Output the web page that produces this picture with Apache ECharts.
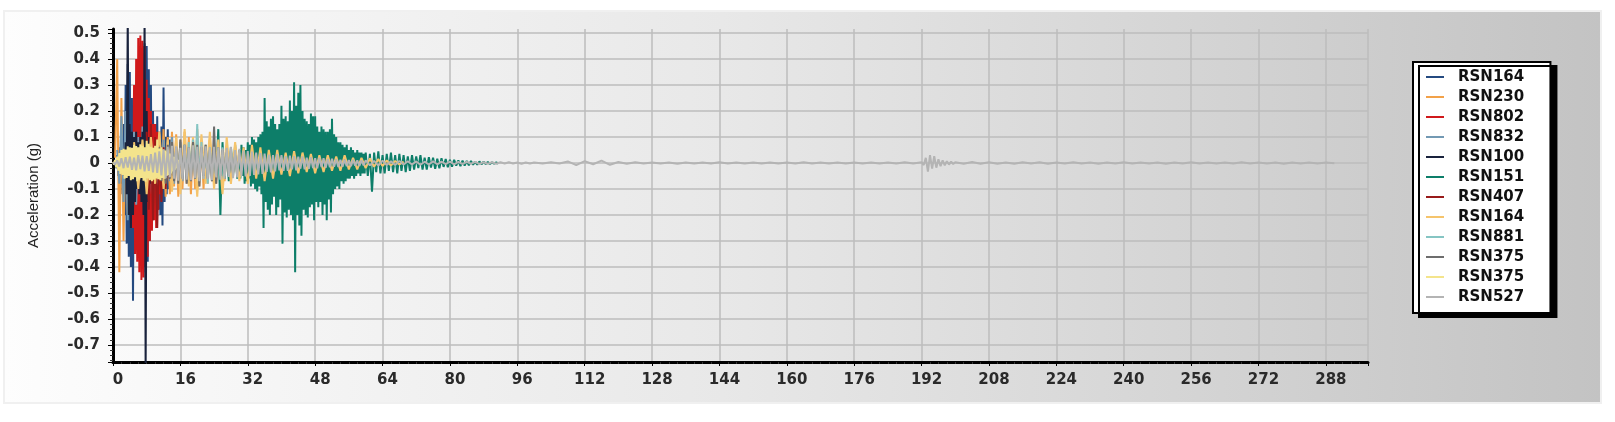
<!DOCTYPE html>
<html>
<head>
<meta charset="utf-8">
<script src="https://cdn.jsdelivr.net/npm/echarts@6/dist/echarts.min.js"></script>
<style>
  html, body { margin: 0; padding: 0; background: #fff; }
  #chart { width: 1615px; height: 422px; }
</style>
</head>
<body>
<div id="chart"></div>
<script>
// legend labels in record order (a trailing space keeps repeated names apart)
const recordNames = ['RSN164', 'RSN230', 'RSN802', 'RSN832', 'RSN100', 'RSN151',
  'RSN407', 'RSN164 ', 'RSN881', 'RSN375', 'RSN375 ', 'RSN527']
const recordColors = ['#244a80', '#f2a149', '#d0191b', '#7399b3', '#19223c', '#0d7e69',
  '#981a1a', '#f5c46c', '#86c5c3', '#6d6d6d', '#f4e48c', '#b4b4b4']

// time axis ticks (s)
const timeTicks = [0, 16, 32, 48, 64, 80, 96, 112, 128, 144, 160, 176, 192, 208, 224, 240, 256, 272, 288]

// acceleration values (g); each block has a start time and a sample step
const rsn164a = [0.01, -0.02, 0.03, -0.05, 0.06, -0.08, 0.1, -0.12, 0.15, -0.2, 0.3, -0.31,
  0.38, -0.36, 0.35, -0.4, 0.25, -0.53, 0.2, -0.35, 0.22, -0.3, 0.18, -0.32,
  0.2, -0.28, 0.3, -0.4, 0.46, -0.42, 0.45, -0.38, 0.36, -0.3, 0.3, -0.22,
  0.2, -0.2, 0.15, -0.22, 0.18, -0.18, 0.12, -0.2, 0.14, -0.24, 0.29, -0.15,
  0.1, -0.12, 0.13, -0.1, 0.09, -0.08, 0.06, -0.05]
const rsn230 = [0.02, 0.4, -0.42, 0.25, -0.3, 0.15, -0.2, 0.12, -0.15, 0.1, -0.12, 0.14,
  -0.1, 0.12, -0.14, 0.1, -0.12, 0.13, -0.1, 0.11, -0.14, 0.12, -0.1, 0.13,
  -0.13, 0.1, -0.12, 0.12, -0.09, 0.11, -0.13, 0.09, -0.1, 0.12, -0.08, 0.1,
  -0.12, 0.08, -0.1, 0.13, -0.09, 0.08, -0.1, 0.07, -0.08, 0.09, -0.07, 0.06,
  -0.08, 0.07, -0.06, 0.05, -0.07, 0.06, -0.05, 0.05, -0.04, 0.04, -0.05, 0.03]
const rsn802 = [0.1, -0.25, 0.3, -0.35, 0.4, -0.38, 0.48, -0.42, 0.49, -0.45, 0.47, -0.44,
  0.45, -0.4, 0.32, -0.36, 0.25, -0.3, 0.2, -0.26, 0.15, -0.22, 0.15, -0.25,
  0.12, -0.18, 0.1, -0.12]
const rsn832 = [0.05, -0.08, 0.18, -0.15, 0.2, -0.22, 0.15, -0.18, 0.12, -0.16, 0.1, -0.12,
  0.14, -0.1, 0.12, -0.15, 0.1, -0.12, 0.09, -0.1, 0.11, -0.08, 0.09, -0.1,
  0.08, -0.07, 0.1, -0.08, 0.07, -0.06, 0.08, -0.07, 0.06, -0.05, 0.05, -0.04, 0.04, -0.03]
const rsn100 = [0.02, -0.05, 0.08, -0.12, 0.56, -0.2, 0.15, -0.25, 0.12, -0.2, 0.1, -0.15,
  0.12, -0.1, 0.08, -0.12, 0.1, -0.15, 0.12, -0.2, 0.56, -0.8, 0.2, -0.15,
  0.1, -0.08, 0.05, -0.03]
const rsn151a = [0.02, -0.025, 0.03, -0.02, 0.035, -0.03, 0.025, -0.04, 0.03, -0.035, 0.04, -0.03,
  0.045, -0.05, 0.13, -0.2, 0.08, -0.06, 0.05, -0.07, 0.06, -0.05, 0.07, -0.06]
const rsn151b = [0.05, -0.06, 0.07, -0.05, 0.06, -0.08, 0.05, -0.07, 0.08, -0.06, 0.07, -0.09,
  0.1, -0.08, 0.09, -0.1, 0.08, -0.11, 0.1, -0.09, 0.11, -0.12, 0.12, -0.25,
  0.25, -0.15, 0.16, -0.18, 0.14, -0.2, 0.17, -0.16, 0.18, -0.13, 0.15, -0.2,
  0.13, -0.17, 0.15, -0.14, 0.22, -0.31, 0.17, -0.19, 0.18, -0.21, 0.16, -0.18,
  0.24, -0.2, 0.2, -0.22, 0.31, -0.42, 0.22, -0.2, 0.27, -0.24, 0.3, -0.28,
  0.2, -0.18, 0.17, -0.2, 0.16, -0.21, 0.15, -0.17, 0.19, -0.16, 0.18, -0.22,
  0.18, -0.15, 0.14, -0.17, 0.12, -0.15, 0.14, -0.2, 0.13, -0.16, 0.12, -0.22,
  0.12, -0.14, 0.13, -0.19, 0.17, -0.12, 0.11, -0.1, 0.1, -0.09, 0.08, -0.1,
  0.08, -0.07, 0.07, -0.08, 0.06, -0.07, 0.07, -0.06, 0.05, -0.06, 0.06, -0.05,
  0.05, -0.06, 0.04, -0.05, 0.05, -0.04, 0.04, -0.05, 0.04, -0.04, 0.035, -0.04]
const rsn151c = [0.04, -0.05, 0.035, -0.11, 0.04, -0.035, 0.045, -0.04, 0.03, -0.04, 0.035, -0.03,
  0.04, -0.035, 0.03, -0.04, 0.035, -0.03, 0.03, -0.035, 0.025, -0.03, 0.03, -0.025,
  0.025, -0.02, 0.03, -0.025, 0.02, -0.025, 0.022, -0.018, 0.02, -0.022, 0.016, -0.02,
  0.018, -0.015, 0.015, -0.016, 0.012, -0.014, 0.012, -0.01, 0.01, -0.012, 0.009, -0.01,
  0.008, -0.009, 0.008, -0.007, 0.006, -0.007, 0.006, -0.005, 0.005, -0.004, 0.004, -0.004,
  0.003, -0.003, 0.002, -0.002]
const rsn407 = [0.12, -0.18, 0.15, -0.22, 0.1, -0.25, 0.08, -0.15, 0.06, -0.1, 0.05, -0.06]
const rsn164b = [0.08, -0.1, 0.09, -0.12, 0.1, -0.08, 0.12, -0.1, 0.09, -0.11, 0.1, -0.12,
  0.13, -0.09, 0.1, -0.13, 0.11, -0.08, 0.12, -0.1, 0.09, -0.12, 0.1, -0.08,
  0.08, -0.07, 0.06, -0.08, 0.07, -0.06, 0.06, -0.07, 0.05, -0.06, 0.05, -0.045,
  0.04, -0.05, 0.045, -0.04, 0.04, -0.035, 0.035, -0.04, 0.03, -0.035, 0.03, -0.03,
  0.025, -0.03, 0.03, -0.025, 0.02, -0.025, 0.02, -0.02, 0.018, -0.015, 0.015, -0.012,
  0.01, -0.01, 0.008, -0.006, 0.005]
const rsn881 = [0.03, -0.04, 0.05, -0.04, 0.06, -0.05, 0.07, -0.06, 0.08, -0.05, 0.09, -0.06,
  0.15, -0.07, 0.08, -0.06, 0.07, -0.08, 0.06, -0.05, 0.07, -0.06, 0.05, -0.04,
  0.06, -0.05, 0.04, -0.05, 0.04, -0.03, 0.03, -0.02]
const rsn375a = [0.04, -0.05, 0.06, -0.07, 0.05, -0.08, 0.07, -0.06, 0.08, -0.07, 0.06, -0.08,
  0.09, -0.06, 0.07, -0.08, 0.06, -0.07, 0.08, -0.06, 0.07, -0.09, 0.06, -0.05,
  0.07, -0.06, 0.05, -0.07, 0.14, -0.08, 0.06, -0.05, 0.05, -0.04, 0.04, -0.05,
  0.03, -0.04, 0.03, -0.02]
const rsn375b = [0.004, -0.006, 0.012, -0.018, 0.025, -0.03, 0.038, -0.042, 0.05, -0.046, 0.055, -0.06,
  0.052, -0.058, 0.064, -0.05, 0.06, -0.066, 0.058, -0.062, 0.07, -0.055, 0.065, -0.07,
  0.06, -0.064, 0.072, -0.058, 0.066, -0.068, 0.06, -0.072, 0.085, -0.06, 0.074, -0.066,
  0.062, -0.07, 0.058, -0.064, 0.066, -0.06, 0.09, -0.062, 0.056, -0.066, 0.06, -0.058,
  0.052, -0.06, 0.048, -0.05, 0.042, -0.046, 0.036, -0.04, 0.03, -0.032, 0.024, -0.026,
  0.018, -0.02, 0.012, -0.01]
const rsn527a = [0.003, -0.006, 0.01, -0.014, 0.018, -0.02, 0.022, -0.018, 0.024, -0.026, 0.02, -0.028,
  0.03, -0.024, 0.028, -0.032, 0.026, -0.03, 0.034, -0.036, 0.04, -0.038, 0.045, -0.048,
  0.052, -0.058, 0.062, -0.055, 0.066, -0.06, 0.064, -0.068, 0.058, -0.062, 0.07, -0.064,
  0.06, -0.066, 0.068, -0.058, 0.062, -0.07, 0.066, -0.06, 0.064, -0.062, 0.058, -0.066,
  0.062, -0.056, 0.06, -0.064, 0.055, -0.06, 0.058, -0.054, 0.062, -0.058, 0.05, -0.056,
  0.054, -0.05, 0.048, -0.052, 0.046, -0.05, 0.044, -0.046, 0.04, -0.044, 0.038, -0.042,
  0.036, -0.034, 0.032, -0.036, 0.03, -0.032, 0.034, -0.028, 0.03, -0.03, 0.026, -0.03,
  0.028, -0.024, 0.026, -0.028, 0.024, -0.022, 0.025, -0.024, 0.02, -0.022, 0.022, -0.02,
  0.018, -0.02, 0.02, -0.016, 0.018, -0.018, 0.015, -0.016, 0.016, -0.014, 0.014, -0.015,
  0.012, -0.014, 0.013, -0.012, 0.011, -0.012, 0.012, -0.01, 0.01, -0.011, 0.01, -0.009]
const rsn527b = [0.01, -0.009, 0.008, -0.01, 0.009, -0.008, 0.007, -0.008, 0.008, -0.006, 0.007, -0.006,
  0.006, -0.007, 0.005, -0.006, 0.006, -0.005, 0.005, -0.004, 0.005, -0.005, 0.004, -0.004,
  0.004, -0.003, 0.004, -0.004, 0.003, -0.003, 0.003, -0.003, 0.003, -0.002, 0.003, -0.002,
  0.002, -0.003, 0.002, -0.002]
const rsn527c = [0.002, -0.002, 0.003, -0.002, 0.006, -0.008, 0.007, -0.005, 0.009, -0.007, 0.004, -0.003,
  0.003, -0.002, 0.002, -0.002, 0.002, -0.003, 0.002, -0.002, 0.002, -0.002, 0.003, -0.002,
  0.002, -0.002, 0.002, -0.002, 0.002, -0.002, 0.002, -0.002, 0.003, -0.002, 0.002, -0.002,
  0.002, -0.002, 0.002, -0.002, 0.002, -0.002, 0.002, -0.002, 0.003, -0.002]
const rsn527d = [0.003, -0.008, 0.02, -0.033, 0.03, -0.022, 0.026, -0.018, 0.014, -0.012, 0.01, -0.009,
  0.007, -0.006, 0.005, -0.004]
const rsn527e = [0.003, -0.003, 0.004, -0.003, 0.003, -0.003, 0.002, -0.003, 0.003, -0.002, 0.003, -0.003,
  0.002, -0.002, 0.003, -0.002, 0.002, -0.003, 0.002, -0.002, 0.003, -0.002, 0.002, -0.002,
  0.002, -0.003, 0.002, -0.002, 0.003, -0.002, 0.002, -0.002, 0.002, -0.002, 0.003, -0.002,
  0.002, -0.002, 0.002, -0.003, 0.002, -0.002, 0.002, -0.002, 0.002, -0.001]

// [start time, step, values] blocks for each record, in legend order
const records = [
  [[0.5, 0.25, rsn164a]],
  [[0.5, 0.5, rsn230]],
  [[4.5, 0.25, rsn802]],
  [[1, 0.5, rsn832]],
  [[2.5, 0.25, rsn100]],
  [[18, 0.5, rsn151a], [30, 0.25, rsn151b], [60, 0.5, rsn151c]],
  [[8, 0.5, rsn407]],
  [[5, 1, rsn164b]],
  [[14, 0.5, rsn881]],
  [[10, 0.5, rsn375a]],
  [[0, 0.25, rsn375b]],
  [[0, 0.5, rsn527a], [60, 1, rsn527b], [100, 2, rsn527c], [192, 0.5, rsn527d], [200, 2, rsn527e]]
]

const toPoints = (blocks) => {
  const pts = []
  blocks.forEach(([t0, dt, vals]) => {
    vals.forEach((v, i) => pts.push([+(t0 + i * dt).toFixed(3), v]))
  })
  return pts
}

const chart = echarts.init(document.getElementById('chart'))

const tickFont = { fontFamily: 'DejaVu Sans', fontSize: 15, fontWeight: 'bold', color: '#2a2a2a' }

const option = {
  animation: false,
  backgroundColor: '#fff',
  graphic: [
    {
      type: 'rect',
      z: -10,
      silent: true,
      shape: { x: 4, y: 11, width: 1597, height: 392 },
      style: {
        fill: new echarts.graphic.LinearGradient(0, 0, 1, 0, [
          { offset: 0, color: '#fdfdfd' },
          { offset: 0.45, color: '#e8e8e8' },
          { offset: 1, color: '#c3c3c3' }
        ]),
        stroke: '#f0f0f0',
        lineWidth: 2
      }
    }
  ],
  grid: {
    left: 113,
    right: 247,
    top: 29,
    bottom: 60
  },
  legend: {
    orient: 'vertical',
    left: 1413,
    top: 62,
    icon: 'rect',
    itemWidth: 18,
    itemHeight: 2,
    itemGap: 4,
    padding: [7, 21, 8, 13],
    backgroundColor: '#fff',
    borderColor: '#000',
    borderWidth: 2,
    shadowColor: '#000',
    shadowBlur: 0,
    shadowOffsetX: 6,
    shadowOffsetY: 4,
    textStyle: {
      fontFamily: 'DejaVu Sans',
      fontSize: 15,
      fontWeight: 'bold',
      color: '#111',
      lineHeight: 16,
      padding: [0, 0, 0, 9]
    },
    data: recordNames
  },
  xAxis: {
    type: 'value',
    min: 0,
    max: 298,
    interval: 16,
    axisLine: { onZero: false, lineStyle: { color: '#000', width: 3 } },
    axisTick: { length: 4, lineStyle: { color: '#000', width: 1 } },
    minorTick: { show: true, splitNumber: 8, length: 2, lineStyle: { color: '#333' } },
    splitLine: { show: true, lineStyle: { color: '#bcbcbc', width: 1.5 } },
    axisLabel: {
      ...tickFont,
      showMaxLabel: false,
      margin: 11,
      padding: [0, 0, 0, 10],
      formatter: (v) => (timeTicks.includes(v) ? String(v) : '')
    }
  },
  yAxis: {
    type: 'value',
    min: -0.765,
    max: 0.515,
    splitNumber: 12,
    name: 'Acceleration (g)',
    nameLocation: 'middle',
    nameGap: 72,
    nameTextStyle: { fontFamily: 'Liberation Sans', fontSize: 15, color: '#222' },
    axisLine: { show: true, onZero: false, lineStyle: { color: '#000', width: 3 } },
    axisTick: { length: 5, lineStyle: { color: '#000', width: 1 } },
    minorTick: { show: true, splitNumber: 5, length: 3, lineStyle: { color: '#333' } },
    splitLine: { show: true, showMinLine: false, showMaxLine: false, lineStyle: { color: '#bcbcbc', width: 1.5 } },
    axisLabel: {
      ...tickFont,
      showMinLabel: false,
      showMaxLabel: false,
      margin: 13,
      formatter: (v) => String(Math.round(v * 10) / 10)
    }
  },
  series: records.map((blocks, i) => ({
    name: recordNames[i],
    type: 'line',
    data: toPoints(blocks),
    showSymbol: false,
    symbol: 'none',
    color: recordColors[i],
    lineStyle: { width: 2, color: recordColors[i] },
    emphasis: { disabled: true }
  }))
}

chart.setOption(option)

window.addEventListener('resize', () => {
  chart?.resize()
})
</script>
</body>
</html>
